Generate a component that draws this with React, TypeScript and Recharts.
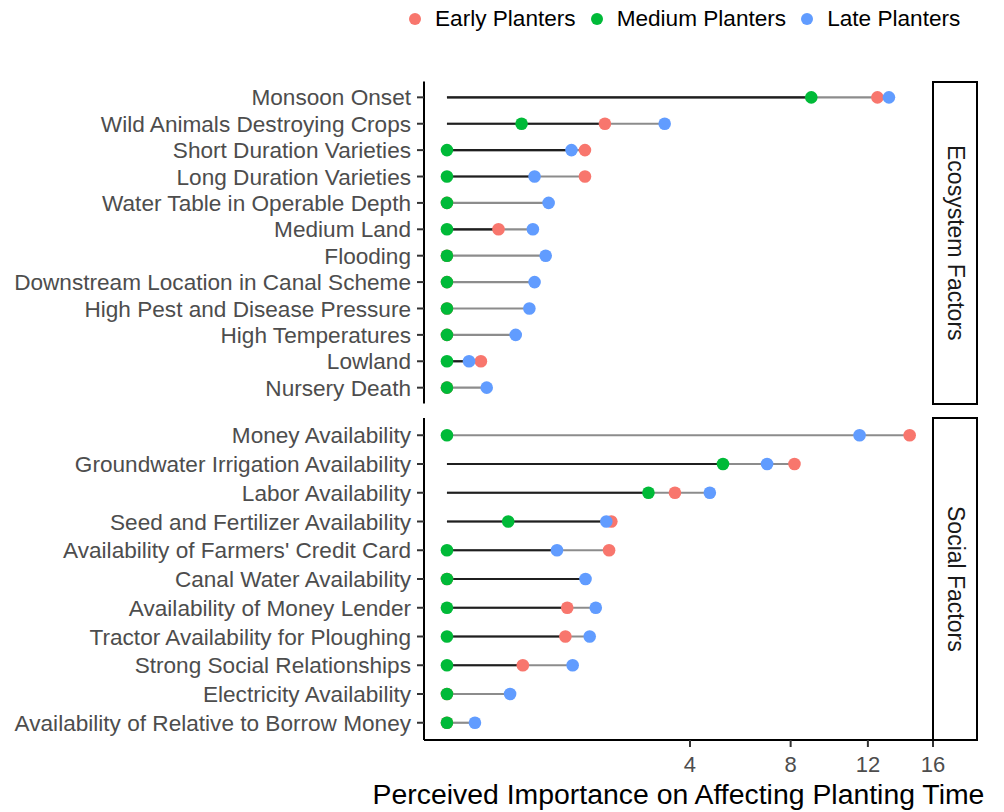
import React from 'react'
import { ScatterChart, Scatter, XAxis, YAxis, ErrorBar } from 'recharts'

const FONT = '"Liberation Sans", Arial, Helvetica, sans-serif'
const AXIS_TEXT = '#4D4D4D'

const SERIES = [
  { key: 'early', name: 'Early Planters', color: '#F8766D' },
  { key: 'medium', name: 'Medium Planters', color: '#00BA38' },
  { key: 'late', name: 'Late Planters', color: '#619CFF' },
]

const X_TITLE = 'Perceived Importance on Affecting Planting Time'
const xTicks = [4, 8, 12, 16]
const xDomain = [-0.0357, 16]

// Ecosystem factors (top facet)
const ecoFactors = [
  'Monsoon Onset',
  'Wild Animals Destroying Crops',
  'Short Duration Varieties',
  'Long Duration Varieties',
  'Water Table in Operable Depth',
  'Medium Land',
  'Flooding',
  'Downstream Location in Canal Scheme',
  'High Pest and Disease Pressure',
  'High Temperatures',
  'Lowland',
  'Nursery Death',
]
const ecoEarly = [12.55, 1.69, 1.29, 1.29, 0, 0.18, 0, 0, 0, 0, 0.078, 0]
const ecoMedium = [8.99, 0.377, 0, 0, 0, 0, 0, 0, 0, 0, 0, 0]
const ecoLate = [13.23, 3.21, 1.05, 0.52, 0.7, 0.5, 0.66, 0.52, 0.46, 0.32, 0.033, 0.107]
const ecoDark = [8.99, 1.69, 1.05, 0.52, 0, 0.18, 0, 0, 0, 0, 0.033, 0]

// Social factors (bottom facet)
const socFactors = [
  'Money Availability',
  'Groundwater Irrigation Availability',
  'Labor Availability',
  'Seed and Fertilizer Availability',
  "Availability of Farmers' Credit Card",
  'Canal Water Availability',
  'Availability of Money Lender',
  'Tractor Availability for Ploughing',
  'Strong Social Relationships',
  'Electricity Availability',
  'Availability of Relative to Borrow Money',
]
const socEarly = [14.5, 8.18, 3.52, 1.83, 1.78, 0, 0.98, 0.95, 0.39, 0, 0]
const socMedium = [0, 5.16, 2.75, 0.254, 0, 0, 0, 0, 0, 0, 0]
const socLate = [11.53, 6.94, 4.68, 1.72, 0.82, 1.3, 1.5, 1.38, 1.07, 0.27, 0.053]
const socDark = [0, 5.16, 2.75, 1.72, 0.82, 1.3, 0.98, 0.95, 0.39, 0, 0]

type PanelProps = {
  names: string[]
  early: number[]
  medium: number[]
  late: number[]
  dark: number[]
  top: number
  bottom: number
  showX: boolean
}

const dot = (color: string) => (p: any) => <circle cx={p.cx} cy={p.cy} r={6.3} fill={color} />
const nothing = () => <g />

function Panel({ names, early, medium, late, dark, top, bottom, showX }: PanelProps) {
  const values = { early, medium, late }
  const idx = names.map((_, i) => i)
  const grey = idx.map((i) => {
    const m = Math.max(early[i], medium[i], late[i])
    return { x: m, y: i, err: [m, 0] }
  })
  const black = idx.map((i) => ({ x: dark[i], y: i, err: [dark[i], 0] }))

  return (
    <div style={{ position: 'absolute', left: 0, top: 0 }}>
      <ScatterChart
        width={1004}
        height={812}
        margin={{ top, right: 71, bottom, left: 0 }}
        style={{ fontFamily: FONT }}
      >
        <XAxis
          dataKey="x"
          type="number"
          scale="sqrt"
          domain={xDomain}
          allowDataOverflow
          ticks={xTicks}
          interval={0}
          hide={!showX}
          height={72}
          tickSize={7}
          tickMargin={9}
          axisLine={{ stroke: '#000', strokeWidth: 2 }}
          tickLine={{ stroke: '#333', strokeWidth: 2 }}
          tick={{ fontSize: 22, fill: AXIS_TEXT, fontFamily: FONT }}
          label={{ value: X_TITLE, position: 'insideBottom', offset: 8, fill: '#000', fontSize: 28.4, fontFamily: FONT }}
        />
        <YAxis
          dataKey="y"
          type="number"
          domain={[-0.6, names.length - 0.4]}
          reversed
          ticks={idx}
          interval={0}
          width={424}
          tickSize={7}
          tickMargin={6}
          tickFormatter={(v: number) => names[v]}
          axisLine={{ stroke: '#000', strokeWidth: 2 }}
          tickLine={{ stroke: '#333', strokeWidth: 2 }}
          tick={{ fontSize: 22.6, fill: AXIS_TEXT, fontFamily: FONT }}
        />
        <Scatter data={grey} shape={nothing} legendType="none" isAnimationActive={false}>
          <ErrorBar dataKey="err" direction="x" width={0} stroke="#8C8C8C" strokeWidth={2.2} isAnimationActive={false} />
        </Scatter>
        <Scatter data={black} shape={nothing} legendType="none" isAnimationActive={false}>
          <ErrorBar dataKey="err" direction="x" width={0} stroke="#1F1F1F" strokeWidth={2.2} isAnimationActive={false} />
        </Scatter>
        {SERIES.map((s) => (
          <Scatter
            key={s.key}
            name={s.name}
            data={idx.map((i) => ({ x: values[s.key as keyof typeof values][i], y: i }))}
            shape={dot(s.color)}
            isAnimationActive={false}
          />
        ))}
      </ScatterChart>
    </div>
  )
}

function Strip({ label, top, height }: { label: string; top: number; height: number }) {
  return (
    <div
      style={{
        position: 'absolute',
        left: 932,
        top,
        width: 46,
        height,
        boxSizing: 'border-box',
        border: '2.5px solid #000',
        background: '#fff',
        display: 'flex',
        alignItems: 'center',
        justifyContent: 'center',
      }}
    >
      <span style={{ writingMode: 'vertical-rl', fontFamily: FONT, fontSize: 23, color: '#1A1A1A' }}>{label}</span>
    </div>
  )
}

export default function App() {
  return (
    <div style={{ position: 'absolute', left: 0, top: 0, width: 1004, height: 812, background: '#fff' }}>
      <div
        style={{
          position: 'absolute',
          left: 409,
          top: 5,
          display: 'flex',
          alignItems: 'center',
          fontFamily: FONT,
          fontSize: 22.6,
          lineHeight: '27px',
          color: '#000',
          whiteSpace: 'nowrap',
        }}
      >
        {SERIES.map((s) => (
          <div key={s.key} style={{ display: 'flex', alignItems: 'center', marginRight: 15 }}>
            <span style={{ width: 12, height: 12, borderRadius: 6, background: s.color, marginRight: 14 }} />
            <span>{s.name}</span>
          </div>
        ))}
      </div>
      <Panel
        names={ecoFactors}
        early={ecoEarly}
        medium={ecoMedium}
        late={ecoLate}
        dark={ecoDark}
        top={81.5}
        bottom={408.5}
        showX={false}
      />
      <Panel
        names={socFactors}
        early={socEarly}
        medium={socMedium}
        late={socLate}
        dark={socDark}
        top={418}
        bottom={0}
        showX
      />
      <Strip label="Ecosystem Factors" top={80.5} height={324} />
      <Strip label="Social Factors" top={417} height={324} />
    </div>
  )
}
